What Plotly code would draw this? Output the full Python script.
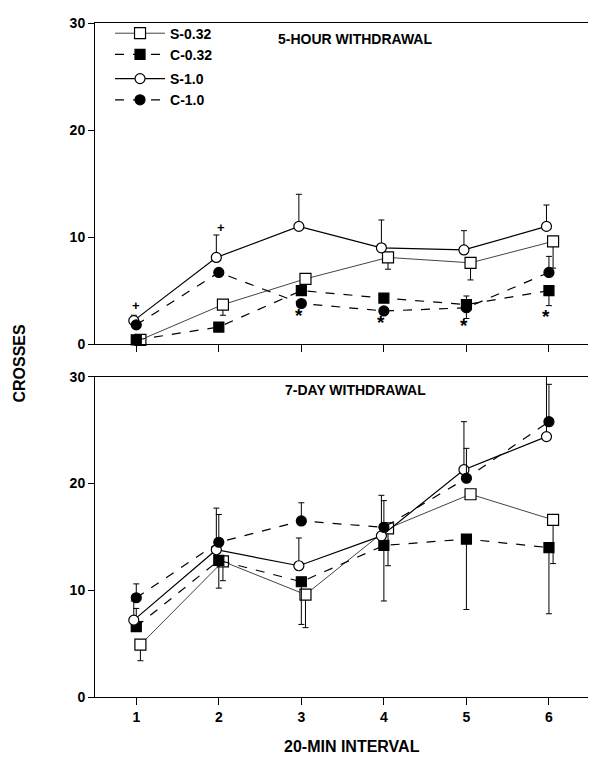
import plotly.graph_objects as go

intervals = [1, 2, 3, 4, 5, 6]
series_names = ["S-0.32", "C-0.32", "S-1.0", "C-1.0"]

# 5-hour withdrawal (top panel)
top_s032 = [0.4, 3.7, 6.1, 8.1, 7.6, 9.6]
top_s032_up = [0, 0, 0, 0, 0, 0]
top_s032_dn = [0, 1.0, 0, 1.1, 1.6, 2.5]
top_c032 = [0.4, 1.6, 5.0, 4.3, 3.7, 5.0]
top_c032_up = [0, 0, 0, 0, 0, 0]
top_c032_dn = [0, 0, 0, 0, 1.3, 1.4]
top_s10 = [2.2, 8.1, 11.0, 9.0, 8.8, 11.0]
top_s10_up = [0.5, 2.1, 3.0, 2.6, 1.8, 2.0]
top_s10_dn = [0, 0, 0, 0, 0, 0]
top_c10 = [1.8, 6.7, 3.8, 3.1, 3.4, 6.7]
top_c10_up = [0, 0, 0, 0, 1.1, 1.5]
top_c10_dn = [0, 0, 0, 0, 0, 0]

# 7-day withdrawal (bottom panel)
bot_s032 = [4.9, 12.7, 9.6, 15.8, 19.0, 16.6]
bot_s032_up = [0, 0, 0, 0, 0, 0]
bot_s032_dn = [1.5, 1.8, 3.1, 3.5, 0, 4.1]
bot_c032 = [6.6, 12.8, 10.8, 14.2, 14.8, 14.0]
bot_c032_up = [1.7, 0, 0, 0, 0, 0]
bot_c032_dn = [0, 2.6, 4.0, 5.2, 6.6, 6.2]
bot_s10 = [7.2, 13.8, 12.3, 15.1, 21.3, 24.4]
bot_s10_up = [1.8, 3.9, 2.6, 3.8, 4.5, 5.7]
bot_s10_dn = [0, 0, 0, 0, 0, 0]
bot_c10 = [9.3, 14.5, 16.5, 15.9, 20.5, 25.8]
bot_c10_up = [1.3, 2.6, 1.7, 2.5, 2.8, 3.5]
bot_c10_dn = [0, 0, 0, 0, 0, 0]

plus_x = [1, 2.03]
plus_y = [3.6, 10.9]
star_x = [3, 4, 5, 6]
star_y = [2.7, 2.0, 1.7, 2.6]

panel_titles = ["5-HOUR WITHDRAWAL", "7-DAY WITHDRAWAL"]
y_ticks = [0, 10, 20, 30]

FONT = "Liberation Sans"

styles = {
    "S-0.32": dict(symbol="square", fill="white", dash="solid", lc="#444", lw=1, size=11, dx=0.05),
    "C-0.32": dict(symbol="square", fill="black", dash="dash", lc="black", lw=1.2, size=10, dx=0.0),
    "S-1.0": dict(symbol="circle", fill="white", dash="solid", lc="black", lw=1.2, size=10, dx=-0.03),
    "C-1.0": dict(symbol="circle", fill="black", dash="dash", lc="black", lw=1.2, size=10, dx=0.0),
}

top_data = {
    "S-0.32": (top_s032, top_s032_up, top_s032_dn),
    "C-0.32": (top_c032, top_c032_up, top_c032_dn),
    "S-1.0": (top_s10, top_s10_up, top_s10_dn),
    "C-1.0": (top_c10, top_c10_up, top_c10_dn),
}
bot_data = {
    "S-0.32": (bot_s032, bot_s032_up, bot_s032_dn),
    "C-0.32": (bot_c032, bot_c032_up, bot_c032_dn),
    "S-1.0": (bot_s10, bot_s10_up, bot_s10_dn),
    "C-1.0": (bot_c10, bot_c10_up, bot_c10_dn),
}

fig = go.Figure()

def add(data, xa, ya, showlegend):
    for name in series_names:
        st = styles[name]
        vals, up, dn = data[name]
        fig.add_trace(go.Scatter(
            x=[x + st["dx"] for x in intervals], y=vals,
            xaxis=xa, yaxis=ya, name=name, showlegend=showlegend,
            legendgroup="g1" if "0.32" in name else "g2",
            mode="lines+markers", cliponaxis=False,
            line=dict(color=st["lc"], width=st["lw"], dash=st["dash"]),
            marker=dict(symbol=st["symbol"], size=st["size"], color=st["fill"],
                        line=dict(color="black", width=1.2)),
            error_y=dict(type="data", symmetric=False, array=up, arrayminus=dn,
                         color="black", thickness=1, width=3),
        ))

add(top_data, "x", "y", True)
add(bot_data, "x2", "y2", False)

annotations = []
for x, y in zip(plus_x, plus_y):
    annotations.append(dict(x=x, y=y, xref="x", yref="y", text="+", showarrow=False,
                            xanchor="center", yanchor="middle",
                            font=dict(family=FONT, size=13, color="black", weight="bold")))
for x, y in zip(star_x, star_y):
    annotations.append(dict(x=x - 0.03, y=y, xref="x", yref="y", text="*", showarrow=False,
                            xanchor="center", yanchor="middle",
                            font=dict(family=FONT, size=19, color="black", weight="bold")))
annotations.append(dict(x=3.65, y=28.5, xref="x", yref="y", text=panel_titles[0], showarrow=False,
                        xanchor="center", yanchor="middle",
                        font=dict(family=FONT, size=14, color="black", weight="bold")))
annotations.append(dict(x=3.66, y=28.8, xref="x2", yref="y2", text=panel_titles[1], showarrow=False,
                        xanchor="center", yanchor="middle",
                        font=dict(family=FONT, size=14, color="black", weight="bold")))
annotations.append(dict(x=-0.15, y=0.496, xref="paper", yref="paper", text="CROSSES",
                        textangle=-90, showarrow=False, xanchor="center", yanchor="middle",
                        font=dict(family=FONT, size=16, color="black", weight="bold")))
annotations.append(dict(x=0.513, y=-0.073, xref="paper", yref="paper", text="20-MIN INTERVAL",
                        showarrow=False, xanchor="center", yanchor="middle",
                        font=dict(family=FONT, size=16, color="black", weight="bold")))

xcommon = dict(range=[0.5, 6.57], tickvals=intervals, ticks="outside", ticklen=7,
               tickwidth=1, tickcolor="black", showline=True, linecolor="black",
               linewidth=1.3, mirror=True, showgrid=False, zeroline=False,
               tickfont=dict(family=FONT, size=14, color="black", weight="bold"))
ycommon = dict(range=[0, 30], tickvals=y_ticks, ticks="outside", ticklen=6,
               tickwidth=1, tickcolor="black", showline=True, linecolor="black",
               linewidth=1, mirror=False, showgrid=False, zeroline=False,
               tickfont=dict(family=FONT, size=14, color="black", weight="bold"))

fig.update_layout(
    width=596, height=757,
    margin=dict(l=87, r=8, t=7, b=68),
    paper_bgcolor="white", plot_bgcolor="white",
    xaxis=dict(xcommon, anchor="y", showticklabels=False),
    yaxis=dict(ycommon, domain=[0.5235, 1.0], anchor="x"),
    xaxis2=dict(xcommon, anchor="y2"),
    yaxis2=dict(ycommon, domain=[0.0, 0.475], anchor="x2"),
    legend=dict(x=0.03, y=1.008, xanchor="left", yanchor="top",
                bgcolor="rgba(0,0,0,0)", tracegroupgap=3, traceorder="grouped",
                itemwidth=50,
                font=dict(family=FONT, size=14, color="black", weight="bold")),
    annotations=annotations,
    showlegend=True,
)

fig.write_html("out.html")
